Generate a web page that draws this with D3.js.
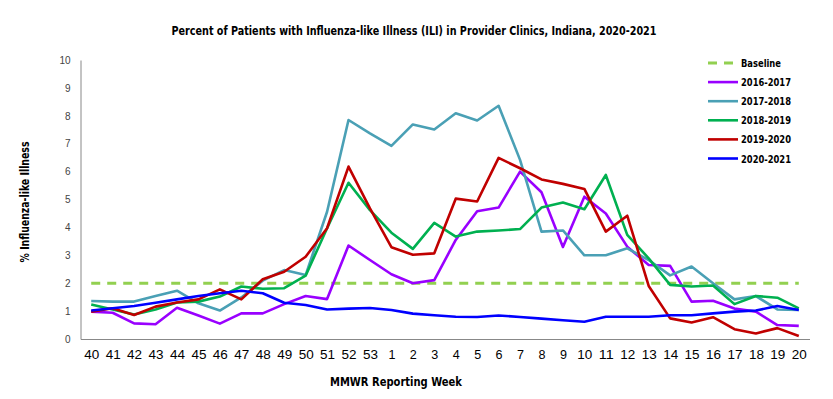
<!DOCTYPE html>
<html>
<head>
<meta charset="utf-8">
<script src="https://cdnjs.cloudflare.com/ajax/libs/d3/7.8.5/d3.min.js"></script>
<style>
  body { margin: 0; background: #fff; }
  svg { display: block; font-family: "Liberation Sans Narrow", "DejaVu Sans Condensed", "Liberation Sans", sans-serif; }
</style>
</head>
<body>
<div id="chart"></div>
<script>
// week categories (MMWR weeks 40..53, then 1..20)
const weeks = ["40","41","42","43","44","45","46","47","48","49","50","51","52","53",
  "1","2","3","4","5","6","7","8","9","10","11","12","13","14","15","16","17","18","19","20"];

const baseline = 2.0;

const s2016 = [0.98,0.94,0.56,0.53,1.12,0.84,0.55,0.92,0.92,1.25,1.54,1.43,3.35,2.83,
  2.32,2.0,2.11,3.55,4.58,4.71,6.0,5.26,3.3,5.1,4.5,3.31,2.65,2.62,1.34,1.37,1.09,0.98,0.5,0.47];
const s2017 = [1.36,1.34,1.34,1.54,1.73,1.28,1.02,1.49,2.09,2.47,2.29,4.56,7.85,7.37,
  6.92,7.69,7.51,8.09,7.83,8.36,6.42,3.85,3.89,3.0,3.0,3.25,2.83,2.28,2.6,2.0,1.42,1.54,1.06,1.04];
const s2018 = [1.24,1.06,0.88,1.06,1.31,1.34,1.52,1.88,1.8,1.82,2.27,3.97,5.6,4.62,
  3.81,3.23,4.16,3.67,3.85,3.89,3.94,4.71,4.89,4.65,5.88,3.73,2.89,1.94,1.88,1.92,1.25,1.54,1.48,1.1];
const s2019 = [0.98,1.1,0.86,1.16,1.31,1.42,1.78,1.42,2.14,2.41,2.95,3.97,6.18,4.68,
  3.29,3.02,3.07,5.03,4.93,6.49,6.12,5.72,5.56,5.38,3.85,4.42,1.9,0.74,0.59,0.78,0.35,0.2,0.39,0.11];
const s2020 = [1.02,1.1,1.18,1.3,1.42,1.54,1.64,1.73,1.64,1.3,1.22,1.06,1.09,1.11,
  1.04,0.91,0.85,0.8,0.79,0.84,0.79,0.73,0.67,0.62,0.8,0.8,0.8,0.85,0.85,0.92,0.98,1.02,1.18,1.04];

const seriesNames = ["2016-2017","2017-2018","2018-2019","2019-2020","2020-2021"];
const seriesValues = [s2016, s2017, s2018, s2019, s2020];
const seriesColors = ["#9900ff","#4aa0b5","#00b050","#c00000","#0000ff"];
const yTicks = [0,1,2,3,4,5,6,7,8,9,10];

const width = 833, height = 399;
const margin = {left: 80.5, right: 23.5, top: 60, bottom: 60};

const svg = d3.select("#chart").append("svg")
  .attr("width", width)
  .attr("height", height);

const x = d3.scalePoint()
  .domain(weeks)
  .range([margin.left, width - margin.right])
  .padding(0.5);

const y = d3.scaleLinear()
  .domain([0, 10])
  .range([height - margin.bottom, margin.top]);

// title
svg.append("text")
  .attr("x", 414).attr("y", 35)
  .attr("text-anchor", "middle")
  .attr("font-size", 13).attr("font-weight", "bold")
  .attr("fill", "#000")
  .attr("textLength", 485).attr("lengthAdjust", "spacingAndGlyphs")
  .text("Percent of Patients with Influenza-like Illness (ILI) in Provider Clinics, Indiana, 2020-2021");

// y axis
const yAxis = svg.append("g")
  .attr("transform", `translate(${margin.left},0)`)
  .call(d3.axisLeft(y).tickValues(yTicks).tickSize(0).tickPadding(10));
yAxis.select(".domain").attr("stroke", "#888");
yAxis.selectAll("text").attr("font-size", 10).attr("fill", "#444")
  .attr("font-family", "Liberation Sans, sans-serif");

// x axis
const xAxis = svg.append("g")
  .attr("transform", `translate(0,${y(0)})`)
  .call(d3.axisBottom(x).tickSize(0).tickPadding(11));
xAxis.select(".domain").attr("stroke", "#888");
xAxis.selectAll("text").attr("font-size", 12).attr("fill", "#000")
  .attr("font-family", "Liberation Sans, sans-serif")
  .attr("textLength", d => d.length > 1 ? 15 : 7).attr("lengthAdjust", "spacingAndGlyphs");

// axis titles
svg.append("text")
  .attr("x", 396).attr("y", 386)
  .attr("text-anchor", "middle")
  .attr("font-size", 12).attr("font-weight", "bold")
  .attr("textLength", 132).attr("lengthAdjust", "spacingAndGlyphs")
  .text("MMWR Reporting Week");

svg.append("text")
  .attr("transform", "translate(29,202) rotate(-90)")
  .attr("text-anchor", "middle")
  .attr("font-size", 12).attr("font-weight", "bold")
  .attr("textLength", 121).attr("lengthAdjust", "spacingAndGlyphs")
  .text("% Influenza-like Illness");

// baseline
svg.append("line")
  .attr("x1", x(weeks[0])).attr("x2", x(weeks[weeks.length - 1]))
  .attr("y1", y(baseline)).attr("y2", y(baseline))
  .attr("stroke", "#92d050").attr("stroke-width", 3)
  .attr("stroke-dasharray", "9,7");

// series lines
const line = d3.line()
  .x((d, i) => x(weeks[i]))
  .y(d => y(d));

seriesValues.forEach((vals, i) => {
  svg.append("path")
    .datum(vals)
    .attr("fill", "none")
    .attr("stroke", seriesColors[i])
    .attr("stroke-width", 2.6)
    .attr("stroke-linejoin", "round")
    .attr("d", line);
});

// legend
const legendItems = [{name: "Baseline", color: "#92d050", dash: "9,7"}]
  .concat(seriesNames.map((n, i) => ({name: n, color: seriesColors[i], dash: null})));

const legend = svg.append("g").attr("transform", "translate(708,63)");
legendItems.forEach((d, i) => {
  const g = legend.append("g").attr("transform", `translate(0,${i * 19.1})`);
  g.append("line")
    .attr("x1", 0).attr("x2", 30)
    .attr("stroke", d.color).attr("stroke-width", d.dash ? 3 : 2.6)
    .attr("stroke-dasharray", d.dash);
  g.append("text")
    .attr("x", 33).attr("y", 4)
    .attr("font-size", 11).attr("font-weight", "bold")
    .attr("textLength", d.name.length > 8 ? 50 : 40).attr("lengthAdjust", "spacingAndGlyphs")
    .text(d.name);
});
</script>
</body>
</html>
